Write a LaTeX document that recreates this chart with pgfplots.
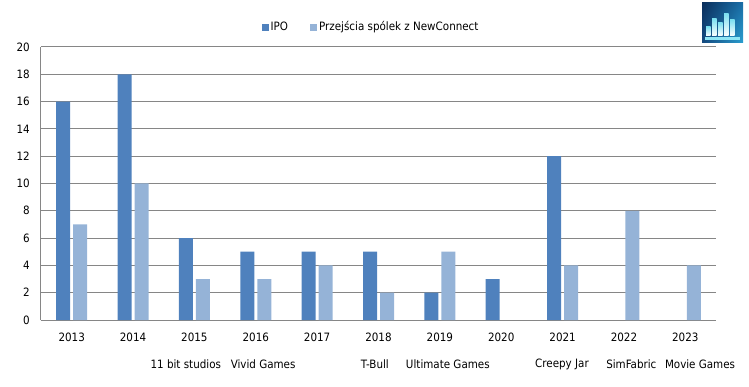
\documentclass[border=0pt]{standalone}
\usepackage{fontspec}
\setmainfont{DejaVu Sans Condensed}
\usepackage{pgfplots}
\pgfplotsset{compat=1.18}
\usetikzlibrary{shadings}
\definecolor{ipo}{HTML}{4F81BD}
\definecolor{prz}{HTML}{95B3D7}
\definecolor{gridc}{HTML}{868686}
\definecolor{lgA}{HTML}{0B2F5C}
\definecolor{lgB}{HTML}{2A9FD0}
\definecolor{lgC}{HTML}{1A6FA8}
\definecolor{lgD}{HTML}{144A80}
\definecolor{lgE}{HTML}{7FE0F0}
\definecolor{lgF}{HTML}{8FE6F5}
\begin{document}
\fontsize{11.5bp}{13bp}\selectfont
\begin{tikzpicture}
\useasboundingbox (-41bp,-67bp) rectangle (708bp,320bp);
\begin{axis}[
  at={(0,0)}, anchor=south west,
  scale only axis, width=675bp, height=273bp,
  xmin=-0.5, xmax=10.5, ymin=0, ymax=20,
  ytick={0,2,...,20},
  xtick={0,...,10},
  xticklabels={2013,2014,2015,2016,2017,2018,2019,2020,2021,2022,2023},
  /pgf/number format/assume math mode=true,
  tick style={draw=none},
  axis x line*=bottom, axis y line*=left,
  axis line style={draw=gridc, line width=1bp, -},
  ymajorgrids, grid style={draw=gridc, line width=1bp},
  yticklabel style={anchor=east, inner sep=0pt, xshift=-11bp},
  xticklabel style={anchor=center, inner sep=0pt, yshift=-13bp},
  ybar, bar width=14bp,
  clip=false,
  legend style={at={(0.489,1.073)}, anchor=center, draw=none, legend columns=2,
    font=\fontsize{11.5bp}{13bp}\selectfont, inner sep=0pt,
    /tikz/every even column/.append style={column sep=20bp}},
  legend image code/.code={\fill[#1] (0bp,-3.5bp) rectangle (7bp,3.5bp);},
]
\addplot[fill=ipo, draw=none, bar shift=-8.5bp] coordinates {
 (0,16) (1,18) (2,6) (3,5) (4,5) (5,5) (6,2) (7,3) (8,12)};
\addlegendentry{IPO}
\addplot[fill=prz, draw=none, bar shift=8.5bp] coordinates {
 (0,7) (1,10) (2,3) (3,3) (4,4) (5,2) (6,5) (8,4) (9,8) (10,4)};
\addlegendentry{Przejścia spólek z NewConnect}
\node at (axis cs:1.86,0) [yshift=-44bp] {11 bit studios};
\node at (axis cs:3.12,0) [yshift=-44bp] {Vivid Games};
\node at (axis cs:4.94,0) [yshift=-44bp] {T-Bull};
\node at (axis cs:6.13,0) [yshift=-44bp] {Ultimate Games};
\node at (axis cs:7.99,0) [yshift=-44bp] {Creepy Jar};
\node at (axis cs:9.12,0) [yshift=-44bp] {SimFabric};
\node at (axis cs:10.24,0) [yshift=-44bp] {Movie Games};
\end{axis}
% decorative logo
\shade[upper left=lgA, lower right=lgB, upper right=lgC, lower left=lgD]
  (661bp,277bp) rectangle (702bp,317bp);
\foreach \x/\h in {665/9, 671/17, 677/13, 683/22, 689/16}{
  \shade[top color=lgE, bottom color=white] (\x bp,284bp) rectangle ++(4.5bp,\h bp);
}
\fill[lgF] (664bp,280bp) rectangle (699bp,282.5bp);
\end{tikzpicture}
\end{document}
